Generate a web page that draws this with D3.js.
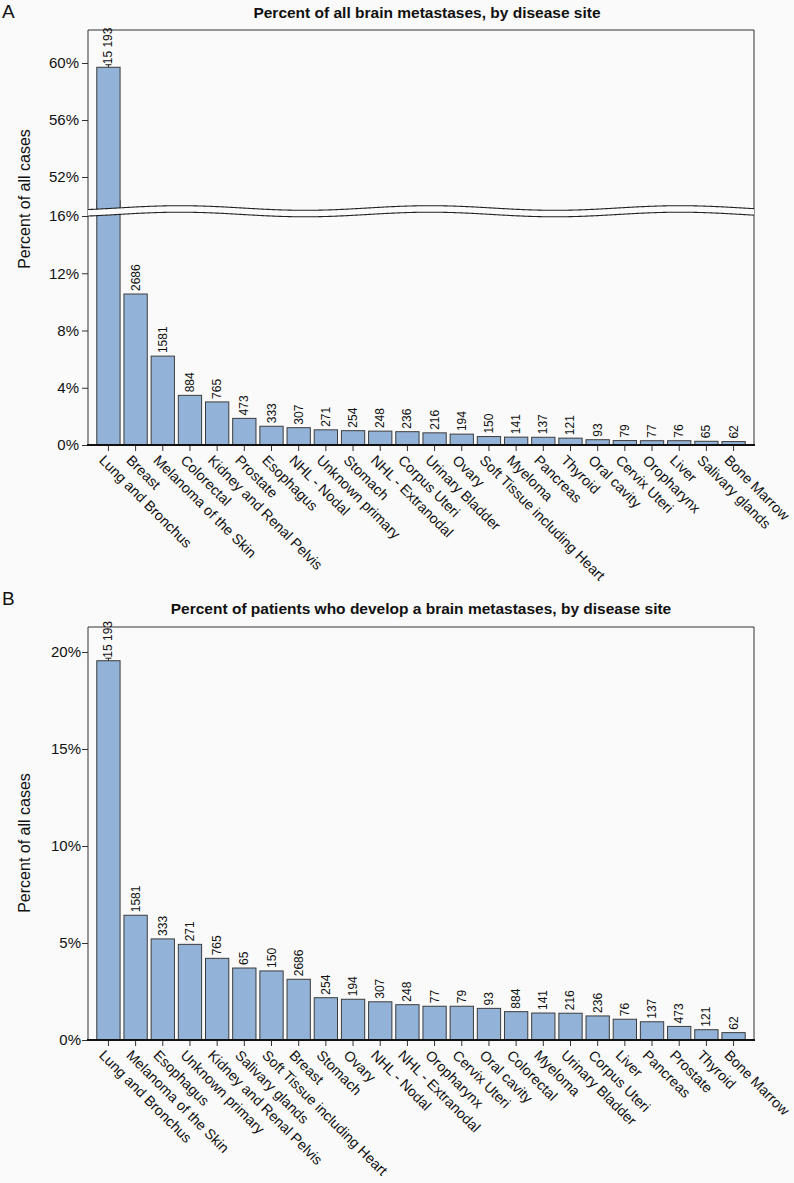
<!DOCTYPE html>
<html><head><meta charset="utf-8">
<script src="https://cdn.jsdelivr.net/npm/d3@7"></script>
<style>
body{margin:0;background:#fafafa}
svg{display:block}
text{font-family:"Liberation Sans",Arial,Helvetica,sans-serif;fill:#111}
</style>
</head><body>
<svg id="c" width="794" height="1183"></svg>
<script>
// ---------- DATA ----------
const categoriesA = ["Lung and Bronchus","Breast","Melanoma of the Skin","Colorectal","Kidney and Renal Pelvis","Prostate","Esophagus","NHL - Nodal","Unknown primary","Stomach","NHL - Extranodal","Corpus Uteri","Urinary Bladder","Ovary","Soft Tissue including Heart","Myeloma","Pancreas","Thyroid","Oral cavity","Cervix Uteri","Oropharynx","Liver","Salivary glands","Bone Marrow"];
const countsA = [15193,2686,1581,884,765,473,333,307,271,254,248,236,216,194,150,141,137,121,93,79,77,76,65,62];
const percentA = [59.7,10.55,6.21,3.47,3.01,1.86,1.31,1.21,1.06,1.00,0.97,0.93,0.85,0.76,0.59,0.55,0.54,0.48,0.37,0.31,0.30,0.30,0.26,0.24];
const ciA = [59.55,59.88]; // small interval on the first bar

const categoriesB = ["Lung and Bronchus","Melanoma of the Skin","Esophagus","Unknown primary","Kidney and Renal Pelvis","Salivary glands","Soft Tissue including Heart","Breast","Stomach","Ovary","NHL - Nodal","NHL - Extranodal","Oropharynx","Cervix Uteri","Oral cavity","Colorectal","Myeloma","Urinary Bladder","Corpus Uteri","Liver","Pancreas","Prostate","Thyroid","Bone Marrow"];
const countsB = [15193,1581,333,271,765,65,150,2686,254,194,307,248,77,79,93,884,141,216,236,76,137,473,121,62];
const percentB = [19.55,6.43,5.21,4.93,4.21,3.71,3.56,3.13,2.18,2.10,1.97,1.82,1.74,1.74,1.63,1.46,1.39,1.38,1.24,1.07,0.94,0.70,0.53,0.38];
const ciB = [19.45,19.68];

const ticksAUpper = [52,56,60];
const ticksALower = [0,4,8,12,16];
const ticksB = [0,5,10,15,20];

const titleA = "Percent of all brain metastases, by disease site";
const titleB = "Percent of patients who develop a brain metastases, by disease site";
const yTitle = "Percent of all cases";

// ---------- STYLE ----------
const BG = "#fafafa", BAR = "#92b2d7", EDGE = "#3c3c3c", LINE = "#333";
const L = 88, R = 754;
const svg = d3.select("#c");
const defs = svg.append("defs");
const fmt = n => { const s = String(n); return n >= 10000 ? s.slice(0, -3) + " " + s.slice(-3) : s; };
const xScale = cats => d3.scaleBand().domain(cats).range([L, R]).paddingInner(0.143).paddingOuter(0.323);

function styleYAxis(g) {
  g.select(".domain").remove();
  g.selectAll(".tick line").attr("stroke", LINE);
  g.selectAll(".tick text").style("font-size", "15px").attr("fill", "#111");
}
function drawXAxis(g, x, y0) {
  const ax = g.append("g").attr("transform", `translate(0,${y0})`)
    .call(d3.axisBottom(x).tickSize(6).tickSizeOuter(0));
  ax.select(".domain").remove();
  ax.selectAll(".tick line").attr("stroke", LINE);
  ax.selectAll(".tick text")
    .attr("x", 0).attr("y", 0).attr("dy", "0.71em")
    .attr("text-anchor", "start")
    .attr("transform", "translate(-3,9) rotate(45)")
    .style("font-size", "14.3px").attr("fill", "#111");
  g.append("line").attr("x1", L - 1).attr("x2", R + 1).attr("y1", y0).attr("y2", y0)
    .attr("stroke", "#111").attr("stroke-width", 2);
}
function valueLabels(g, x, cats, vals, counts, yOf) {
  g.selectAll(null).data(cats).join("text")
    .attr("transform", (d, i) => `translate(${x(d) + x.bandwidth() / 2 + 4},${yOf(vals[i]) - 3}) rotate(-90)`)
    .attr("text-anchor", "start")
    .style("font-size", "12px")
    .text((d, i) => fmt(counts[i]));
}
function errBar(g, cx, yTop, yBot) {
  g.append("line").attr("x1", cx).attr("x2", cx).attr("y1", yTop).attr("y2", yBot).attr("stroke", "#222");
  g.append("line").attr("x1", cx - 3).attr("x2", cx + 3).attr("y1", yTop).attr("y2", yTop).attr("stroke", "#222");
}

// ---------- PANEL A ----------
const gA = svg.append("g");
const xA = xScale(categoriesA);
const yUp = d3.scaleLinear().domain([52, 60]).range([177, 63]);
const yLo = d3.scaleLinear().domain([0, 16]).range([445, 216]);
const topA = 30;

defs.append("clipPath").attr("id", "clipUp").append("rect").attr("x", L).attr("y", topA).attr("width", R - L).attr("height", 185);
defs.append("clipPath").attr("id", "clipLo").append("rect").attr("x", L).attr("y", 200).attr("width", R - L).attr("height", 245);

gA.append("g").attr("clip-path", "url(#clipUp)")
  .selectAll("rect").data(categoriesA.filter((d, i) => percentA[i] > 52)).join("rect")
  .attr("x", d => xA(d)).attr("width", xA.bandwidth())
  .attr("y", d => yUp(percentA[categoriesA.indexOf(d)]))
  .attr("height", d => 230 - yUp(percentA[categoriesA.indexOf(d)]))
  .attr("fill", BAR).attr("stroke", EDGE).attr("stroke-width", 1);
gA.append("g").attr("clip-path", "url(#clipLo)")
  .selectAll("rect").data(categoriesA).join("rect")
  .attr("x", d => xA(d)).attr("width", xA.bandwidth())
  .attr("y", (d, i) => yLo(Math.min(percentA[i], 17.5)))
  .attr("height", (d, i) => yLo(0) - yLo(Math.min(percentA[i], 17.5)))
  .attr("fill", BAR).attr("stroke", EDGE).attr("stroke-width", 1);

errBar(gA, xA(categoriesA[0]) + xA.bandwidth() / 2, yUp(ciA[1]), yUp(percentA[0]));

gA.append("line").attr("x1", L).attr("x2", R).attr("y1", topA).attr("y2", topA).attr("stroke", LINE);
gA.append("line").attr("x1", L).attr("x2", L).attr("y1", topA).attr("y2", 445).attr("stroke", LINE);
gA.append("line").attr("x1", R).attr("x2", R).attr("y1", topA).attr("y2", 445).attr("stroke", LINE);

// axis break (wavy band)
const xs = d3.range(L, R + 0.5, 2);
const wave = x => 208 + 2.3 * Math.cos(2 * Math.PI * (x - 305) / 250);
const gap = 6.5;
const upperWave = xs.map(x => [x, wave(x)]);
const lowerWave = xs.map(x => [x, wave(x) + gap]);
gA.append("path").attr("d", d3.line()(upperWave.concat(lowerWave.slice().reverse())) + "Z")
  .attr("fill", BG).attr("stroke", "none");
gA.append("path").attr("d", d3.line().curve(d3.curveBasis)(upperWave)).attr("fill", "none").attr("stroke", "#222").attr("stroke-width", 1.1);
gA.append("path").attr("d", d3.line().curve(d3.curveBasis)(lowerWave)).attr("fill", "none").attr("stroke", "#222").attr("stroke-width", 1.1);

gA.append("g").attr("transform", `translate(${L},0)`)
  .call(d3.axisLeft(yUp).tickValues(ticksAUpper).tickFormat(d => d + "%").tickSize(6).tickPadding(3)).call(styleYAxis);
gA.append("g").attr("transform", `translate(${L},0)`)
  .call(d3.axisLeft(yLo).tickValues(ticksALower).tickFormat(d => d + "%").tickSize(6).tickPadding(3)).call(styleYAxis);

drawXAxis(gA, xA, 445);

valueLabels(gA, xA, categoriesA, percentA, countsA, v => v > 16 ? yUp(v) : yLo(v));

gA.append("text").attr("x", 2).attr("y", 18).style("font-size", "19px").text("A");
gA.append("text").attr("x", 427).attr("y", 18).attr("text-anchor", "middle")
  .style("font-size", "15.5px").style("font-weight", "bold").text(titleA);
gA.append("text").attr("transform", "translate(30,199) rotate(-90)").attr("text-anchor", "middle")
  .style("font-size", "16px").text(yTitle);

// ---------- PANEL B ----------
const gB = svg.append("g");
const xB = xScale(categoriesB);
const yB = d3.scaleLinear().domain([0, 20]).range([1040, 652]);
const topB = 627;

gB.selectAll("rect").data(categoriesB).join("rect")
  .attr("x", d => xB(d)).attr("width", xB.bandwidth())
  .attr("y", (d, i) => yB(percentB[i]))
  .attr("height", (d, i) => yB(0) - yB(percentB[i]))
  .attr("fill", BAR).attr("stroke", EDGE).attr("stroke-width", 1);

errBar(gB, xB(categoriesB[0]) + xB.bandwidth() / 2, yB(ciB[1]), yB(percentB[0]));

gB.append("line").attr("x1", L).attr("x2", R).attr("y1", topB).attr("y2", topB).attr("stroke", LINE);
gB.append("line").attr("x1", L).attr("x2", L).attr("y1", topB).attr("y2", 1040).attr("stroke", LINE);
gB.append("line").attr("x1", R).attr("x2", R).attr("y1", topB).attr("y2", 1040).attr("stroke", LINE);

gB.append("g").attr("transform", `translate(${L},0)`)
  .call(d3.axisLeft(yB).tickValues(ticksB).tickFormat(d => d + "%").tickSize(6).tickPadding(1)).call(styleYAxis);

drawXAxis(gB, xB, 1040);
valueLabels(gB, xB, categoriesB, percentB, countsB, yB);

gB.append("text").attr("x", 2).attr("y", 605).style("font-size", "19px").text("B");
gB.append("text").attr("x", 421).attr("y", 614).attr("text-anchor", "middle")
  .style("font-size", "15.5px").style("font-weight", "bold").text(titleB);
gB.append("text").attr("transform", "translate(30,843) rotate(-90)").attr("text-anchor", "middle")
  .style("font-size", "16px").text(yTitle);
</script>
</body></html>
